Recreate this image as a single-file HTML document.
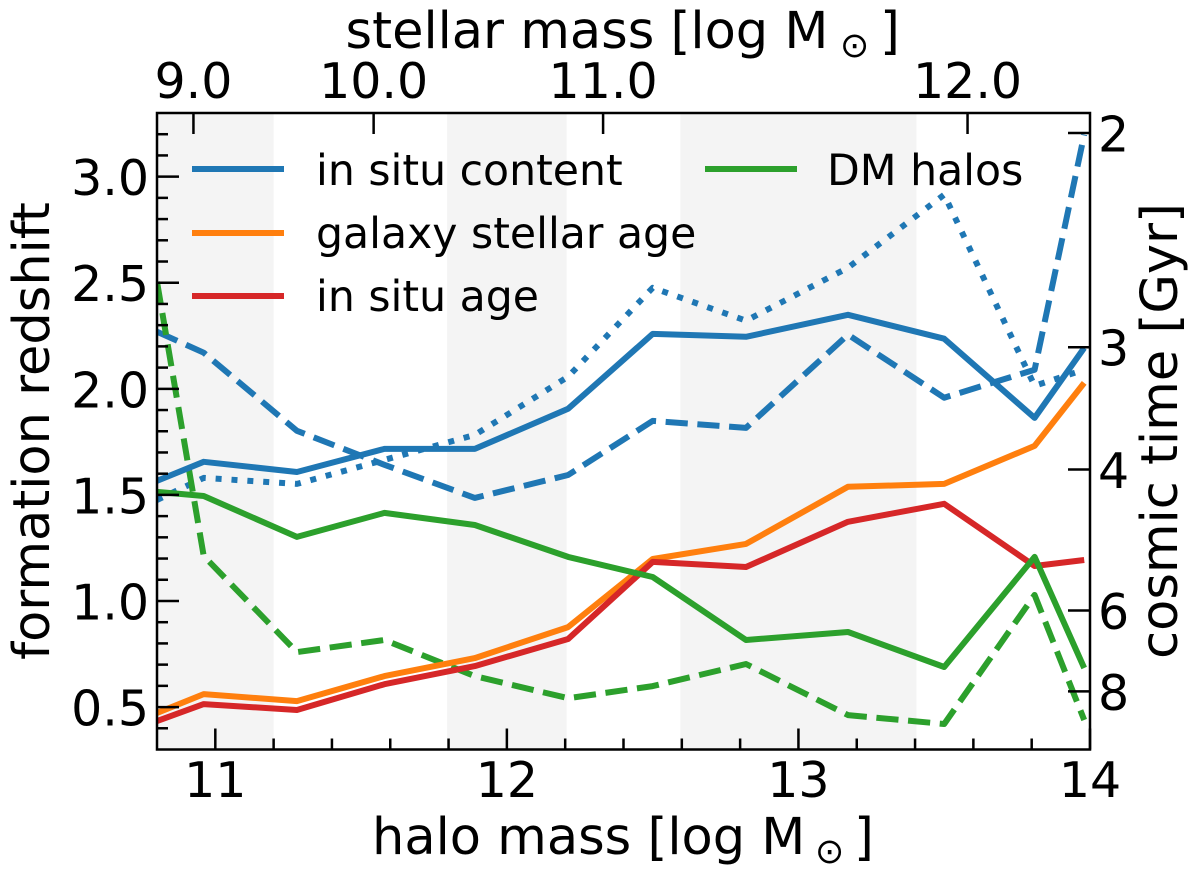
<!DOCTYPE html>
<html>
<head>
<meta charset="utf-8">
<style>
html,body{margin:0;padding:0;background:#fff;width:1200px;height:873px;overflow:hidden}
svg{display:block}
text{font-family:"DejaVu Sans","Liberation Sans",sans-serif;fill:#000}
</style>
</head>
<body>
<svg id="chart" xmlns="http://www.w3.org/2000/svg" width="1200" height="873" viewBox="0 0 1200 873">
  <defs><clipPath id="plot-clip"><rect x="157" y="113" width="933" height="636.5"></rect></clipPath></defs>
  <g id="bands"></g>
  <g id="series" clip-path="url(#plot-clip)"></g>
  <g id="axes"></g>
  <g id="legend">
    <line x1="192" x2="284" y1="169" y2="169" stroke="#1f77b4" stroke-width="6"></line>
    <text x="316" y="185" font-size="42.6">in situ content</text>
    <line x1="192" x2="284" y1="233" y2="233" stroke="#ff7f0e" stroke-width="6"></line>
    <text x="316" y="248" font-size="42.6">galaxy stellar age</text>
    <line x1="192" x2="284" y1="296" y2="296" stroke="#d62728" stroke-width="6"></line>
    <text x="316" y="311" font-size="42.6">in situ age</text>
    <line x1="705" x2="797" y1="169" y2="169" stroke="#2ca02c" stroke-width="6"></line>
    <text x="827" y="185" font-size="42.6">DM halos</text>
  </g>
  <g id="titles">
    <text x="372" y="854" font-size="51">halo mass [log M<tspan font-size="35" x="815" y="863">⊙</tspan><tspan x="854" y="854">]</tspan></text>
    <text x="345.5" y="48" font-size="51">stellar mass [log M<tspan font-size="35" x="840" y="57">⊙</tspan><tspan x="880" y="48">]</tspan></text>
    <text transform="translate(49 431) rotate(-90)" font-size="51" text-anchor="middle">formation redshift</text>
    <text transform="translate(1177 431) rotate(-90)" font-size="51" text-anchor="middle">cosmic time [Gyr]</text>
  </g>
</svg>
<script>
// Data arrays
const haloMass = [10.8, 10.96, 11.28, 11.58, 11.89, 12.21, 12.5, 12.82, 13.17, 13.5, 13.81, 13.98];
const inSituContent = [1.566, 1.656, 1.608, 1.717, 1.717, 1.906, 2.259, 2.245, 2.349, 2.236, 1.863, 2.193];
const inSituContentDashed = [2.269, 2.170, 1.802, 1.642, 1.486, 1.594, 1.849, 1.816, 2.255, 1.958, 2.09, 3.198];
const inSituContentDotted = [1.476, 1.580, 1.552, 1.665, 1.783, 2.057, 2.476, 2.321, 2.571, 2.915, 2.014, 2.09];
const galaxyStellarAge = [0.472, 0.561, 0.528, 0.646, 0.731, 0.877, 1.198, 1.269, 1.538, 1.552, 1.731, 2.028];
const inSituAge = [0.434, 0.514, 0.486, 0.608, 0.693, 0.821, 1.184, 1.160, 1.373, 1.458, 1.165, 1.193];
const dmHalos = [1.514, 1.495, 1.302, 1.415, 1.358, 1.208, 1.113, 0.816, 0.854, 0.689, 1.208, 0.684];
const dmHalosDashed = [2.505, 1.212, 0.759, 0.816, 0.646, 0.542, 0.599, 0.703, 0.462, 0.420, 1.028, 0.439];
const bandStarts = [10.8, 11.795, 12.595];
const bandEnds = [11.2, 12.205, 13.405];
const xMajorTicks = [11, 12, 13, 14];
const xMinorTicks = [11.2, 11.4, 11.6, 11.8, 12.2, 12.4, 12.6, 12.8, 13.2, 13.4, 13.6, 13.8];
const yMajorTicks = [0.5, 1.0, 1.5, 2.0, 2.5, 3.0];
const yMinorTicks = [0.4,0.6,0.7,0.8,0.9,1.1,1.2,1.3,1.4,1.6,1.7,1.8,1.9,2.1,2.2,2.3,2.4,2.6,2.7,2.8,2.9,3.1,3.2];
const topTickLabels = ["9.0", "10.0", "11.0", "12.0"];
const topTickHaloMass = [10.925, 11.543, 12.33, 13.58];
const rightTickLabels = ["2", "3", "4", "6", "8"];
const rightTickRedshift = [3.206, 2.196, 1.62, 0.955, 0.574];

const NS = "http://www.w3.org/2000/svg";
const left = 157, right = 1090, top_ = 113, bottom = 749.5;
const xMin = 10.8, xMax = 14, yMin = 0.3, yMax = 3.3;
function X(v){ return left + (v - xMin) / (xMax - xMin) * (right - left); }
function Y(v){ return bottom - (v - yMin) / (yMax - yMin) * (bottom - top_); }
function make(tag, parent, attrs){
  const el = document.createElementNS(NS, tag);
  for (const k in attrs) el.setAttribute(k, attrs[k]);
  parent.appendChild(el);
  return el;
}
function kebab(s){ return String(s).replace(/\./g, '-'); }

const bandsG = document.getElementById('bands');
bandStarts.forEach(function(s, i){
  const r = make('rect', bandsG, {x: X(s), y: top_, width: X(bandEnds[i]) - X(s), height: bottom - top_, fill: '#f4f4f4'});
  
  
});

const seriesG = document.getElementById('series');
function drawLine(values, color, dash, name){
  const d = values.map(function(v, i){ return (i ? 'L' : 'M') + X(haloMass[i]).toFixed(1) + ' ' + Y(v).toFixed(1); }).join(' ');
  const p = make('path', seriesG, {d: d, fill: 'none', stroke: color, 'stroke-width': 6, 'stroke-linejoin': 'round'});
  if (dash) p.setAttribute('stroke-dasharray', dash);
  
  
}
drawLine(inSituContentDashed, '#1f77b4', '22.2 9.6', 'in-situ-content-dashed-line');
drawLine(inSituContentDotted, '#1f77b4', '6 9.9', 'in-situ-content-dotted-line');
drawLine(dmHalosDashed, '#2ca02c', '22.2 9.6', 'dm-halos-dashed-line');
drawLine(inSituContent, '#1f77b4', null, 'in-situ-content-line');
drawLine(galaxyStellarAge, '#ff7f0e', null, 'galaxy-stellar-age-line');
drawLine(inSituAge, '#d62728', null, 'in-situ-age-line');
drawLine(dmHalos, '#2ca02c', null, 'dm-halos-line');

const axesG = document.getElementById('axes');
function tick(x1, y1, x2, y2, name){
  const l = make('line', axesG, {x1: x1, y1: y1, x2: x2, y2: y2, stroke: '#000', 'stroke-width': 2.5});
  
  
}
function label(x, y, txt, anchor, name){
  const t = make('text', axesG, {x: x, y: y, 'font-size': 49, 'text-anchor': anchor});
  t.textContent = txt;
  
  
}
xMajorTicks.forEach(function(v){
  tick(X(v), bottom, X(v), bottom - 21, 'x-major-tick-' + v);
  label(X(v), 797, String(v), 'middle', 'x-tick-label-' + v);
});
xMinorTicks.forEach(function(v){
  tick(X(v), bottom, X(v), bottom - 11, 'x-minor-tick-' + kebab(v));
});
yMajorTicks.forEach(function(v){
  tick(left, Y(v), left + 22, Y(v), 'y-major-tick-' + kebab(v));
  label(149, Y(v) + 18.5, v.toFixed(1), 'end', 'y-tick-label-' + kebab(v));
});
yMinorTicks.forEach(function(v){
  tick(left, Y(v), left + 11, Y(v), 'y-minor-tick-' + kebab(v));
});
topTickLabels.forEach(function(txt, i){
  const x = X(topTickHaloMass[i]);
  tick(x, top_, x, top_ + 21, 'top-tick-' + kebab(txt));
  label(x, 98, txt, 'middle', 'top-tick-label-' + kebab(txt));
});
rightTickLabels.forEach(function(txt, i){
  const y = Y(rightTickRedshift[i]);
  tick(right, y, right - 22, y, 'right-tick-' + txt);
  label(1098, y + 18.5, txt, 'start', 'right-tick-label-' + txt);
});
const frame = make('rect', axesG, {x: left, y: top_, width: right - left, height: bottom - top_, fill: 'none', stroke: '#000', 'stroke-width': 2.5});


</script>
</body>
</html>
